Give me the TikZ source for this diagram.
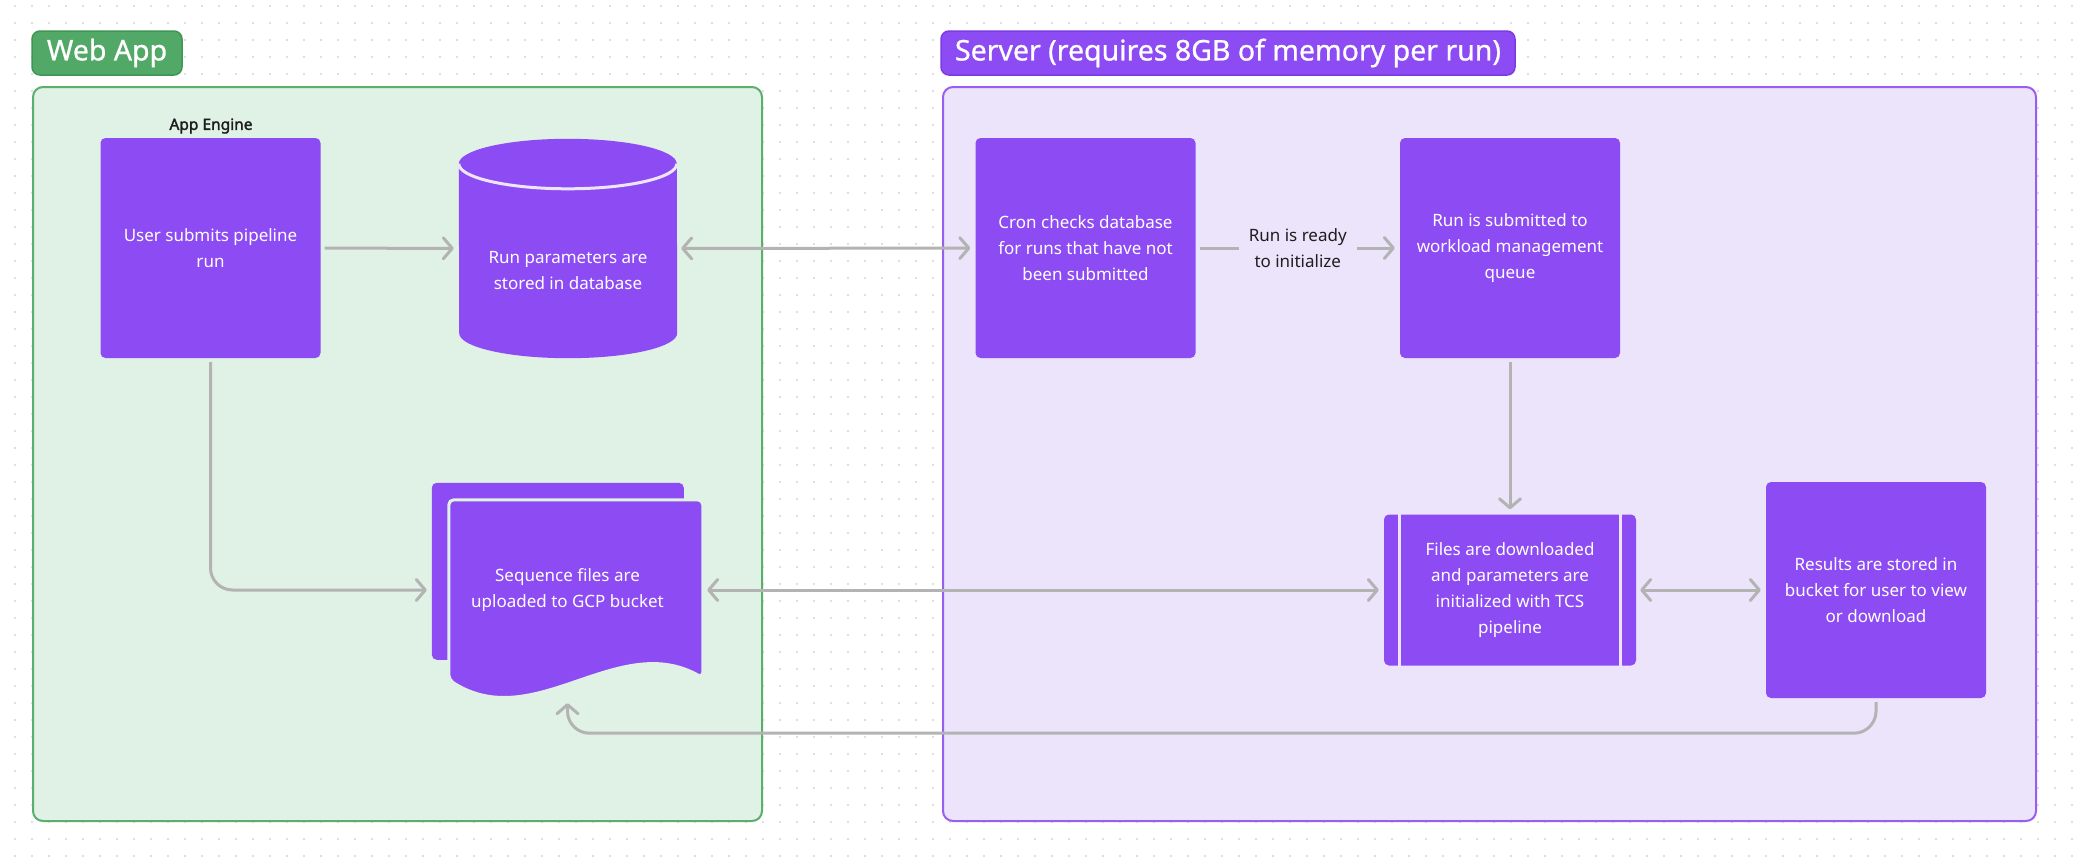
\documentclass[tikz,border=0pt]{standalone}
\usepackage{fontspec}
\setmainfont{Noto Sans}[AutoFakeBold=2]
\newfontfamily\titlefont{Noto Sans}[FakeBold=0.8]
\usetikzlibrary{arrows.meta,calc}

\pgfdeclarelayer{bg}
\pgfdeclarelayer{shp}
\pgfsetlayers{bg,shp,main}

\definecolor{boxfill}{HTML}{8D4BF3}
\definecolor{boxrim}{HTML}{EDE5FC}
\definecolor{servfill}{HTML}{ECE4FB}
\definecolor{servline}{HTML}{9B5DEF}
\definecolor{servtagline}{HTML}{7B3AE2}
\definecolor{webfill}{HTML}{E0F1E6}
\definecolor{webline}{HTML}{5BAE6C}
\definecolor{webtag}{HTML}{52A866}
\definecolor{webtagline}{HTML}{3F9553}
\definecolor{arrowgray}{HTML}{B3B3B3}
\definecolor{inktext}{HTML}{1E1E1E}
\definecolor{dotgray}{HTML}{D4D4D4}

\begin{document}
\begin{tikzpicture}[x=1pt, y=-1pt,
  every node/.style={align=center, font=\fontsize{17}{26}\selectfont},
  box/.style={fill=boxfill, rounded corners=5pt, text=white, inner sep=0pt,
              minimum width=220pt, minimum height=220pt},
  holder/.style={inner sep=0pt, text=white},
  tag/.style={rounded corners=8pt, line width=1.5pt, text=white, inner sep=0pt,
              minimum height=44pt, font=\titlefont\fontsize{28.5}{32}\selectfont},
  area/.style={rounded corners=10pt, line width=2pt, inner sep=0pt,
               minimum height=734pt},
  arr/.style={draw=arrowgray, line width=3pt, shorten >=5pt, shorten <=4pt,
              -{Straight Barb[length=9pt, width=21pt, round]}},
  darr/.style={arr, {Straight Barb[length=9pt, width=21pt, round]}-{Straight Barb[length=9pt, width=21pt, round]}},
  procline/.style={draw=boxrim, line width=3pt}
]
  \useasboundingbox (0,0) rectangle (2080,862);

  % canvas and the two areas
  \begin{pgfonlayer}{bg}
    \fill[white] (0,0) rectangle (2080,862);
    \foreach \x in {15,32,...,2080}
      \foreach \y in {6,23,...,862}
        \fill[dotgray] (\x,\y) circle[radius=1.1];
    \node[area, draw=webline, fill=webfill, minimum width=729pt] (webarea) at (397.5,454) {};
    \node[area, draw=servline, fill=servfill, minimum width=1093pt] (servarea) at (1489.5,454) {};
  \end{pgfonlayer}

  \node[tag, fill=webtag, draw=webtagline, minimum width=150pt] (webtitle) at (107,53) {Web App};
  \node[tag, fill=boxfill, draw=servtagline, minimum width=574pt] (servtitle) at (1228,53)
    {Server (requires 8GB of memory per run)};

  % web app side
  \node[font=\bfseries\fontsize{15.5}{18}\selectfont, text=inktext] (engine) at (211,126) {App Engine};
  \node[box] (user) at (210.5,248) {User submits pipeline\\run};
  \node[holder, minimum width=218pt, minimum height=219pt,
        label={[text=white, yshift=-22pt]center:{Run parameters are\\stored in database}}]
        (db) at (568,248.5) {};
  \node[holder, minimum width=271pt, minimum height=214pt] (seq) at (567.5,590)
    {Sequence files are\\uploaded to GCP bucket};

  \begin{pgfonlayer}{shp}
    % database cylinder
    \fill[boxfill] ($(db.north west)+(0,25)$)
      arc[start angle=180, end angle=360, x radius=109, y radius=25]
      -- ($(db.south east)+(0,-25)$)
      arc[start angle=0, end angle=180, x radius=109, y radius=25] -- cycle;
    \draw[boxrim, line width=3pt] ($(db.north west)+(0,25)$)
      arc[start angle=180, end angle=0, x radius=109, y radius=25];
    % stacked documents
    \begin{scope}[shift={(seq.north west)}]
      \fill[boxfill, rounded corners=5pt] (0,0) rectangle (252,177);
      \filldraw[fill=boxfill, draw=webfill, line width=3pt, rounded corners=5pt]
        (17,17) -- (271,17) -- (271,195)
        .. controls (186,147) and (102,252) .. (17,197) -- cycle;
    \end{scope}
  \end{pgfonlayer}

  % server side
  \node[box] (cron) at (1085.5,248) {Cron checks database\\for runs that have not\\been submitted};
  \node[box] (queue) at (1510,248) {Run is submitted to\\workload management\\queue};
  \node[box, minimum width=252pt, minimum height=151pt] (files) at (1510,590)
    {Files are downloaded\\and parameters are\\initialized with TCS\\pipeline};
  \draw[procline] ([xshift=16pt]files.north west) -- ([xshift=16pt]files.south west);
  \draw[procline] ([xshift=-16pt]files.north east) -- ([xshift=-16pt]files.south east);
  \node[box, minimum height=216pt] (res) at (1876,590)
    {Results are stored in\\bucket for user to view\\or download};

  % connectors
  \draw[arr] (user) -- (db);
  \draw[darr] (db) -- (cron);
  \draw[arr] (cron) -- node[fill=servfill, text=inktext, inner xsep=10pt, inner ysep=2pt]
    {Run is ready\\to initialize} (queue);
  \draw[arr] (queue) -- (files);
  \draw[arr, rounded corners=22pt] (user) |- (seq);
  \draw[darr] (seq) -- (files);
  \draw[darr] (files) -- (res);
  \draw[arr, rounded corners=22pt, shorten >=6pt] (res.south) -- ++(0,35) -| (seq.south);
\end{tikzpicture}
\end{document}
